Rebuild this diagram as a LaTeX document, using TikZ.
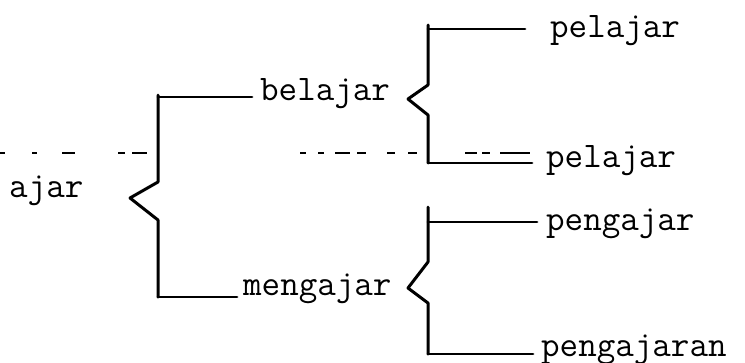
\documentclass[tikz,border=0pt]{standalone}
\usepackage{fontspec}
\begin{document}
\begin{tikzpicture}[x=1pt,y=-1pt,
  word/.style={font=\ttfamily\fontsize{36}{40}\selectfont\addfontfeatures{FakeBold=2.5}, inner sep=0pt, anchor=base west},
  brace/.style={line width=3pt, line join=round, line cap=round},
  stub/.style={line width=2.8pt, line cap=round},
  guide/.style={line width=1.4pt}]
\useasboundingbox (0,0) rectangle (745,362);

% words
\node[word] (ajar)  at (9,197)   {ajar};
\node[word] (bel)   at (260,100) {belajar};
\node[word] (meng)  at (243,295) {mengajar};
\node[word] (pel1)  at (550,37)  {pelajar};
\node[word] (pel2)  at (546,167) {pelajar};
\node[word] (peng1) at (546,230) {pengajar};
\node[word] (peng2) at (541,356) {pengajaran};

% faint broken guide line
\foreach \a/\b in {0/5,32/37,62/75,118/125,132/147,300/306,318/324,335/350,357/366,387/395,408/417,465/477,482/490,500/530}
  \draw[guide] (\a,153) -- (\b,153);

% brace of ajar
\coordinate (a-top) at (158,95);
\coordinate (a-up)  at (158,182);
\coordinate (a-tip) at (130,198);
\coordinate (a-lo)  at (158,220);
\coordinate (a-bot) at (158,297);
\draw[brace] (a-top) -- (a-up) -- (a-tip) -- (a-lo) -- (a-bot);
\coordinate (a-s1) at (158,97);
\draw[stub] (a-s1) -- ([xshift=-8pt]bel.west |- a-s1);
\draw[stub] (a-bot) -- ([xshift=-6pt]meng.west |- a-bot);

% brace of belajar
\coordinate (b-top) at (428,25);
\coordinate (b-up)  at (428,85);
\coordinate (b-tip) at (408,99);
\coordinate (b-lo)  at (428,115);
\coordinate (b-bot) at (428,163);
\draw[brace] (b-top) -- (b-up) -- (b-tip) -- (b-lo) -- (b-bot);
\coordinate (b-s1) at (428,29);
\draw[stub] (b-s1) -- ([xshift=-25pt]pel1.west |- b-s1);
\draw[stub] (b-bot) -- ([xshift=-14pt]pel2.west |- b-bot);

% brace of mengajar
\coordinate (m-top) at (428,207);
\coordinate (m-up)  at (428,262);
\coordinate (m-tip) at (408,288);
\coordinate (m-lo)  at (428,303);
\coordinate (m-bot) at (428,354);
\draw[brace] (m-top) -- (m-up) -- (m-tip) -- (m-lo) -- (m-bot);
\coordinate (m-s1) at (428,222);
\draw[stub] (m-s1) -- ([xshift=-9pt]peng1.west |- m-s1);
\draw[stub] (m-bot) -- ([xshift=-8pt]peng2.west |- m-bot);
\end{tikzpicture}
\end{document}
